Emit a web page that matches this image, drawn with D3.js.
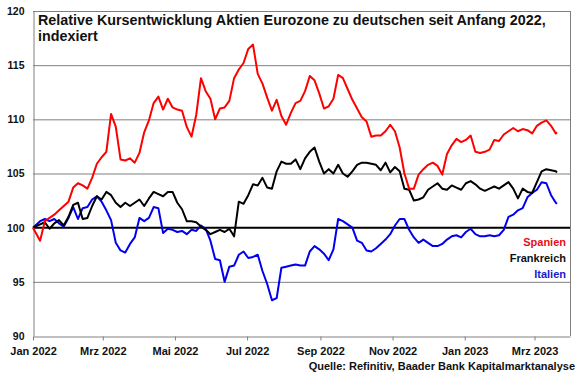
<!DOCTYPE html>
<html><head><meta charset="utf-8">
<script src="https://cdn.jsdelivr.net/npm/d3@7"></script>
<style>
body{margin:0;background:#fff}
svg{display:block}
text{font-family:"Liberation Sans",Arial,sans-serif;font-weight:bold}
</style>
</head><body>
<svg id="c" width="580" height="375"></svg>
<script>
const dates = [
"2022-01-01","2022-01-07","2022-01-11","2022-01-15","2022-01-19","2022-01-23","2022-01-27","2022-01-31",
"2022-02-04","2022-02-08","2022-02-12","2022-02-16","2022-02-20","2022-02-24","2022-02-28",
"2022-03-04","2022-03-08","2022-03-12","2022-03-16","2022-03-20","2022-03-24","2022-03-28",
"2022-04-01","2022-04-05","2022-04-09","2022-04-13","2022-04-17","2022-04-21","2022-04-25","2022-04-29",
"2022-05-03","2022-05-07","2022-05-11","2022-05-15","2022-05-19","2022-05-23","2022-05-27","2022-05-31",
"2022-06-04","2022-06-08","2022-06-12","2022-06-16","2022-06-20","2022-06-24","2022-06-28",
"2022-07-02","2022-07-06","2022-07-10","2022-07-14","2022-07-18","2022-07-22","2022-07-26","2022-07-30",
"2022-08-03","2022-08-07","2022-08-11","2022-08-15","2022-08-19","2022-08-23","2022-08-27","2022-08-31",
"2022-09-04","2022-09-08","2022-09-12","2022-09-16","2022-09-20","2022-09-24","2022-09-28",
"2022-10-02","2022-10-06","2022-10-10","2022-10-14","2022-10-18","2022-10-22","2022-10-26","2022-10-30",
"2022-11-03","2022-11-07","2022-11-11","2022-11-15","2022-11-19","2022-11-23","2022-11-27",
"2022-12-01","2022-12-05","2022-12-09","2022-12-13","2022-12-17","2022-12-21","2022-12-25","2022-12-29",
"2023-01-02","2023-01-06","2023-01-10","2023-01-14","2023-01-18","2023-01-22","2023-01-26","2023-01-30",
"2023-02-03","2023-02-07","2023-02-11","2023-02-15","2023-02-19","2023-02-23","2023-02-27",
"2023-03-03","2023-03-07","2023-03-11","2023-03-15","2023-03-19","2023-03-20"
];
const spanien = [
100, 98.8, 100.6, 100.9, 101.2, 101.6, 102.0, 102.4,
103.7, 104.1, 103.9, 103.6, 104.6, 105.9, 106.5,
107.0, 110.5, 109.3, 106.3, 106.2, 106.4, 106.0,
106.9, 108.8, 109.9, 111.5, 112.1, 110.9, 111.9, 111.1,
110.9, 110.8, 109.3, 108.4, 110.4, 113.8, 112.6, 111.9,
110.0, 111.0, 111.1, 111.7, 113.8, 114.6, 115.2,
116.5, 116.9, 114.2, 113.3, 112.0, 110.8, 111.8, 110.3,
109.5, 110.6, 111.5, 111.7, 112.6, 114.0, 113.6, 112.4,
111.0, 111.2, 111.9, 114.1, 113.8, 112.8, 111.8,
111.0, 110.2, 109.8, 108.4, 108.5, 108.5, 108.9, 109.5,
108.9, 107.4, 105.0, 103.6, 103.6, 104.9, 105.4,
105.8, 106.0, 105.7, 104.9, 106.8, 107.6, 108.2, 107.9,
108.1, 108.5, 107.0, 106.9, 107.0, 107.2, 108.1, 108.0,
108.6, 108.9, 109.2, 108.9, 109.1, 109.0, 108.7,
109.4, 109.7, 109.9, 109.4, 108.7, 108.8
];
const frankreich = [
100.0, 100.3, 100.5, 99.9, 100.4, 100.7, 100.2, 101.0,
102.1, 102.3, 100.8, 100.9, 102.0, 102.9, 102.6,
103.3, 103.0, 102.3, 101.9, 102.3, 102.0, 102.3,
102.6, 102.0, 102.7, 103.3, 103.1, 102.9, 103.3, 103.3,
102.3, 101.7, 100.6, 100.6, 100.5, 100.1, 99.8, 99.4,
99.6, 99.8, 99.6, 99.9, 99.2, 102.4, 102.2,
103.0, 104.0, 103.9, 104.6, 103.7, 103.6, 105.2, 106.1,
105.9, 105.9, 106.3, 105.4, 106.4, 107.0, 107.4, 106.1,
105.0, 105.4, 105.0, 105.8, 105.0, 104.7, 105.2,
105.8, 106.0, 106.0, 105.9, 105.8, 105.3, 106.0, 105.1,
105.6, 105.2, 103.6, 103.5, 102.5, 102.6, 102.8,
103.5, 103.8, 104.1, 103.6, 103.5, 103.9, 103.7, 103.5,
104.1, 104.3, 104.0, 103.6, 103.4, 103.6, 103.8, 103.6,
103.9, 104.2, 103.6, 102.7, 103.6, 103.3, 103.2,
104.2, 105.2, 105.4, 105.3, 105.2, 105.1
];
const italien = [
100.0, 100.6, 100.8, 100.6, 100.8, 100.4, 100.1, 100.9,
101.9, 100.8, 101.8, 101.9, 102.6, 102.9, 102.4,
101.6, 100.7, 98.6, 97.9, 97.7, 98.5, 99.1,
100.9, 100.6, 100.9, 101.9, 101.8, 99.5, 99.9, 99.8,
99.6, 99.7, 99.4, 99.8, 99.7, 100.2, 99.9, 98.8,
97.1, 97.0, 95.0, 96.4, 96.5, 97.5, 97.8,
97.2, 97.3, 97.5, 96.0, 94.8, 93.3, 93.5, 96.3,
96.4, 96.5, 96.6, 96.5, 96.5, 97.8, 98.3, 98.0,
97.6, 97.0, 98.0, 100.8, 100.6, 100.3, 100.0,
98.8, 98.6, 97.9, 97.8, 98.1, 98.5, 98.9, 99.4,
100.2, 100.8, 100.8, 99.8, 99.1, 98.6, 98.9,
98.6, 98.3, 98.3, 98.5, 98.9, 99.2, 99.3, 99.1,
99.6, 99.9, 99.4, 99.2, 99.2, 99.3, 99.2, 99.3,
99.8, 101.0, 101.2, 101.6, 101.8, 102.8, 103.2,
103.5, 104.2, 104.1, 103.0, 102.3, 102.2
];
const seriesNames = ["Spanien", "Frankreich", "Italien"];
const seriesColors = ["#ff0000", "#000000", "#0000ee"];
const legendColors = ["#e3101c", "#111111", "#1a1acc"];
const xTickDates = ["2022-01-01","2022-03-01","2022-05-01","2022-07-01","2022-09-01","2022-11-01","2023-01-01","2023-03-01"];
const xTickLabels = ["Jan 2022","Mrz 2022","Mai 2022","Jul 2022","Sep 2022","Nov 2022","Jan 2023","Mrz 2023"];
const yTicks = [90, 95, 100, 105, 110, 115, 120];
const titleLines = ["Relative Kursentwicklung Aktien Eurozone zu deutschen seit Anfang 2022,", "indexiert"];
const sourceText = "Quelle: Refinitiv, Baader Bank Kapitalmarktanalyse";

const parse = d3.utcParse("%Y-%m-%d");
const L = 33, R = 570, T = 11, B = 336;
const x = d3.scaleUtc().domain([parse("2022-01-01"), parse("2023-03-31")]).range([L, R]);
const y = d3.scaleLinear().domain([90, 120]).range([B, T]);

const svg = d3.select("#c");
svg.append("rect").attr("width", 580).attr("height", 375).attr("fill", "#fff");

// gridlines
svg.append("g").selectAll("line").data(yTicks.filter(v => v !== 90 && v !== 100)).join("line")
  .attr("x1", L).attr("x2", R).attr("y1", d => y(d) + 0.5).attr("y2", d => y(d) + 0.5)
  .attr("stroke", "#808080").attr("stroke-width", 1);
// right border
svg.append("line").attr("x1", R + 0.5).attr("x2", R + 0.5).attr("y1", y(120)).attr("y2", y(90))
  .attr("stroke", "#808080").attr("stroke-width", 1);

// y axis
const yAxis = d3.axisLeft(y).tickValues(yTicks).tickSize(0).tickPadding(9).tickFormat(d3.format("d"));
const gy = svg.append("g").attr("transform", `translate(${L + 0.5},0)`).call(yAxis);
gy.select(".domain").attr("stroke", "#808080");
gy.selectAll("text").attr("font-size", 10.5).attr("fill", "#111")
  .style("font-family", '"Liberation Sans",Arial,sans-serif').style("font-weight", "bold");

// x axis
const xAxis = d3.axisBottom(x).tickValues(xTickDates.map(parse)).tickSizeInner(4).tickSizeOuter(0)
  .tickPadding(7).tickFormat((d, i) => xTickLabels[i]);
const gx = svg.append("g").attr("transform", `translate(0,${B + 0.5})`).call(xAxis);
gx.select(".domain").attr("stroke", "#808080");
gx.selectAll(".tick line").attr("stroke", "#808080");
gx.selectAll("text").attr("font-size", 11).attr("fill", "#111")
  .style("font-family", '"Liberation Sans",Arial,sans-serif').style("font-weight", "bold");

// 100 line
svg.append("line").attr("x1", L).attr("x2", R).attr("y1", y(100)).attr("y2", y(100))
  .attr("stroke", "#000").attr("stroke-width", 2);

// series
const parsedDates = dates.map(parse);
const allSeries = [spanien, frankreich, italien];
const line = d3.line().x((d, i) => x(parsedDates[i])).y(d => y(d));
[2, 1, 0].forEach(s => {
  svg.append("path").datum(allSeries[s]).attr("d", line)
    .attr("fill", "none").attr("stroke", seriesColors[s]).attr("stroke-width", 2)
    .attr("stroke-linejoin", "round");
});

// legend
svg.append("g").selectAll("text").data(seriesNames).join("text")
  .attr("x", 566).attr("y", (d, i) => 246 + i * 16)
  .attr("text-anchor", "end").attr("font-size", 11)
  .attr("fill", (d, i) => legendColors[i]).text(d => d);

// title
const tg = svg.append("g");
const t1 = tg.append("text").attr("x", 38).attr("y", 25).attr("font-size", 14).attr("fill", "#111").text(titleLines[0]);
const w = t1.node().getComputedTextLength();
const fs = 14 * 508 / w;
t1.attr("font-size", fs);
tg.append("text").attr("x", 38).attr("y", 41).attr("font-size", fs).attr("fill", "#111").text(titleLines[1]);

// source
svg.append("text").attr("x", 575).attr("y", 370).attr("text-anchor", "end")
  .attr("font-size", 11).attr("fill", "#111").text(sourceText);
</script>
</body></html>
